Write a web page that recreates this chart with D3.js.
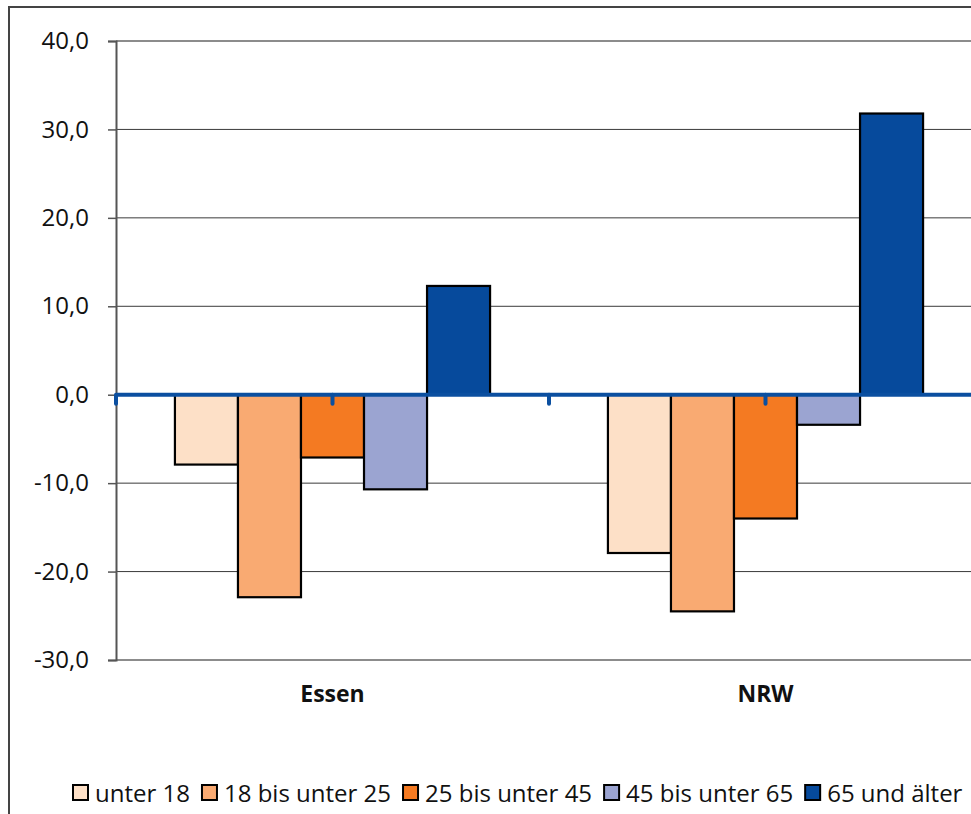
<!DOCTYPE html>
<html lang="de">
<head>
<meta charset="utf-8">
<title>Veränderung nach Altersgruppen</title>
<script src="https://d3js.org/d3.v7.min.js"></script>
<style>
  html, body { margin: 0; padding: 0; background: #fff; overflow: hidden; }
  svg text { font-family: "Open Sans", "Noto Sans", sans-serif; fill: #111; }
</style>
</head>
<body>
<div id="chart"></div>
<script>
// data
const regions = ["Essen", "NRW"];
const groups = ["unter 18", "18 bis unter 25", "25 bis unter 45", "45 bis unter 65", "65 und älter"];
const essenValues = [-7.9, -22.9, -7.1, -10.7, 12.3];
const nrwValues = [-17.9, -24.5, -14.0, -3.4, 31.8];
const groupColors = ["#fde0c7", "#f9aa72", "#f47a22", "#9ba4d1", "#064a9c"];
const yTicks = [-30, -20, -10, 0, 10, 20, 30, 40];

const width = 971, height = 814;
const margin = {top: 41, right: -11, bottom: 154, left: 116};
const innerW = width - margin.left - margin.right;
const innerH = height - margin.top - margin.bottom;

const svg = d3.select("#chart").append("svg")
    .attr("width", width)
    .attr("height", height);

// outer frame
svg.append("rect")
    .attr("x", 9).attr("y", 7)
    .attr("width", 1000).attr("height", 900)
    .attr("fill", "#fff")
    .attr("stroke", "#444").attr("stroke-width", 2);

const g = svg.append("g")
    .attr("transform", "translate(" + margin.left + "," + margin.top + ")");

const x0 = d3.scaleBand().domain(regions).range([0, innerW]).paddingInner(0).paddingOuter(0);
const x1 = d3.scaleBand().domain(groups).range([0, x0.bandwidth()]).paddingOuter(0.935);
const y = d3.scaleLinear().domain([-30, 40]).range([innerH, 0]);

const fmt = v => d3.format(".1f")(v).replace(".", ",").replace("−", "-");

// gridlines
g.selectAll(".grid").data(yTicks.filter(t => t !== 0 && t !== -30 && t !== 40)).enter()
  .append("line")
    .attr("x1", 0).attr("x2", innerW + 20)
    .attr("y1", d => y(d)).attr("y2", d => y(d))
    .attr("stroke", "#3a3a3a").attr("stroke-width", 1);

// top and bottom border lines
[40, -30].forEach(t => {
  g.append("line")
    .attr("x1", 0).attr("x2", innerW + 20)
    .attr("y1", y(t)).attr("y2", y(t))
    .attr("stroke", "#8c8c8c").attr("stroke-width", 2);
});

// y axis
const yAxis = g.append("g").call(d3.axisLeft(y).tickValues(yTicks).tickSize(8).tickPadding(19).tickFormat(fmt));
yAxis.select(".domain").attr("stroke", "#555").attr("stroke-width", 2);
yAxis.selectAll(".tick line").attr("stroke", "#555").attr("stroke-width", 1.5);
yAxis.selectAll(".tick text")
    .style("font-size", "24px")
    .attr("fill", "#111");

// bars
const data = regions.map((r, i) => ({
  region: r,
  values: (i === 0 ? essenValues : nrwValues).map((v, j) => ({group: groups[j], value: v, color: groupColors[j]}))
}));

g.selectAll(".region").data(data).enter()
  .append("g")
    .attr("transform", d => "translate(" + x0(d.region) + ",0)")
  .selectAll("rect").data(d => d.values).enter()
  .append("rect")
    .attr("x", d => x1(d.group))
    .attr("width", x1.bandwidth())
    .attr("y", d => y(Math.max(0, d.value)))
    .attr("height", d => Math.abs(y(d.value) - y(0)))
    .attr("fill", d => d.color)
    .attr("stroke", "#000").attr("stroke-width", 2.2);

// zero line with tick marks
const tickPos = d3.range(0, regions.length * 2).map(i => i * x0.bandwidth() / 2);
g.selectAll(".zt").data(tickPos).enter()
  .append("line")
    .attr("x1", d => d).attr("x2", d => d)
    .attr("y1", y(0)).attr("y2", y(0) + 9)
    .attr("stroke", "#0b4fa0").attr("stroke-width", 4)
    .attr("stroke-linecap", "round");
g.append("line")
    .attr("x1", 0).attr("x2", innerW + 20)
    .attr("y1", y(0)).attr("y2", y(0))
    .attr("stroke", "#0b4fa0").attr("stroke-width", 4);

// category labels
g.selectAll(".cat").data(regions).enter()
  .append("text")
    .attr("x", d => x0(d) + x0.bandwidth() / 2)
    .attr("y", innerH + 42)
    .attr("text-anchor", "middle")
    .style("font-size", "23px")
    .style("font-weight", "bold")
    .text(d => d);

// legend
const legend = svg.append("g").attr("transform", "translate(73,793)");
let lx = 0;
groups.forEach((grp, i) => {
  legend.append("rect")
    .attr("x", lx).attr("y", -8)
    .attr("width", 15).attr("height", 15)
    .attr("fill", groupColors[i])
    .attr("stroke", "#000").attr("stroke-width", 2);
  const t = legend.append("text")
    .attr("x", lx + 22).attr("y", 9)
    .style("font-size", "24px")
    .text(grp);
  lx += 22 + t.node().getComputedTextLength() + 12;
});
</script>
</body>
</html>
